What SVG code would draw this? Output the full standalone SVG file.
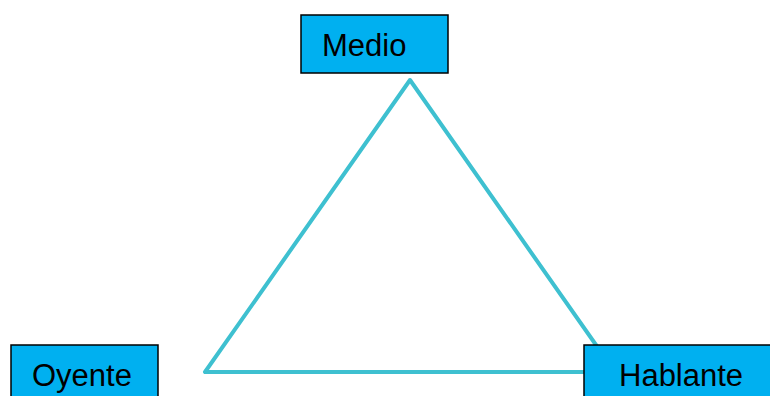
<svg xmlns="http://www.w3.org/2000/svg" width="770" height="396" viewBox="0 0 770 396">
<style>
.box{fill:#00B0F0;stroke:#000;stroke-width:1.5}
.lbl{font-family:"Liberation Sans",Arial,sans-serif;font-size:31px;fill:#000}
.edge{fill:none;stroke:#3EC0D0;stroke-width:4;stroke-linejoin:round}
</style>
<rect width="770" height="396" fill="#fff"/>
<g id="connectors">
<path class="edge" d="M410,80 L205,372 L615,372 Z"/>
</g>
<g id="medio">
<rect class="box" x="301" y="15" width="147" height="58"/>
<text class="lbl" x="322" y="56">Medio</text>
</g>
<g id="oyente">
<rect class="box" x="11" y="345" width="147" height="60"/>
<text class="lbl" x="32" y="386">Oyente</text>
</g>
<g id="hablante">
<rect class="box" x="584" y="345" width="200" height="60"/>
<text class="lbl" x="619" y="386">Hablante</text>
</g>
</svg>
